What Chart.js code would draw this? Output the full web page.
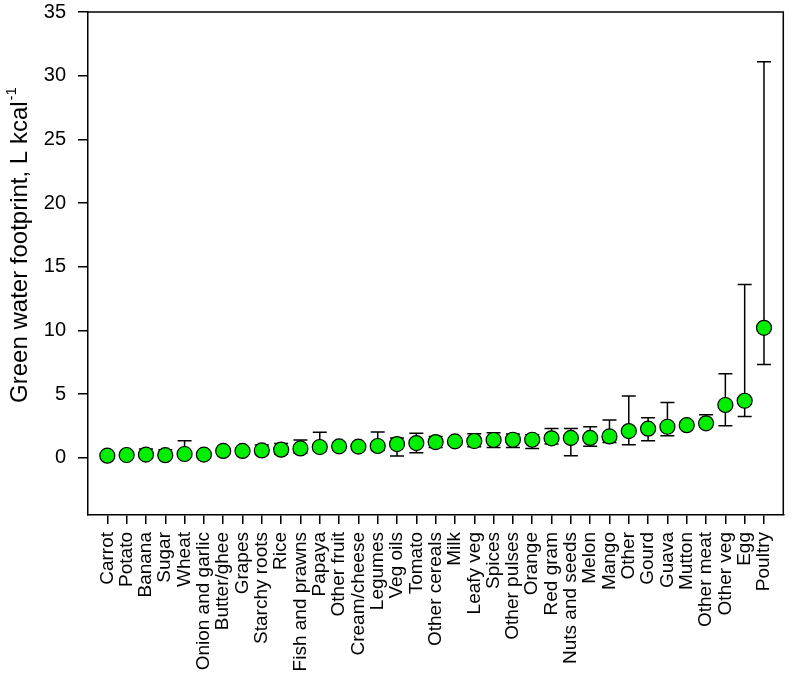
<!DOCTYPE html>
<html>
<head>
<meta charset="utf-8">
<script src="https://cdn.jsdelivr.net/npm/chart.js@4.4.0/dist/chart.umd.min.js"></script>
<style>
  html, body { margin: 0; padding: 0; background: #fff; }
  #wrap { width: 792px; height: 679px; }
</style>
</head>
<body>
<div id="wrap"><canvas id="chart" width="792" height="679"></canvas></div>
<script>
// Green water footprint by food group, mean with range
const categories = [
  'Carrot', 'Potato', 'Banana', 'Sugar', 'Wheat', 'Onion and garlic', 'Butter/ghee',
  'Grapes', 'Starchy roots', 'Rice', 'Fish and prawns', 'Papaya', 'Other fruit',
  'Cream/cheese', 'Legumes', 'Veg oils', 'Tomato', 'Other cereals', 'Milk', 'Leafy veg',
  'Spices', 'Other pulses', 'Orange', 'Red gram', 'Nuts and seeds', 'Melon', 'Mango',
  'Other', 'Gourd', 'Guava', 'Mutton', 'Other meat', 'Other veg', 'Egg', 'Poultry'
];
const means = [
  0.16, 0.21, 0.24, 0.20, 0.29, 0.24, 0.53, 0.53, 0.57, 0.63, 0.73, 0.84, 0.89,
  0.87, 0.92, 1.07, 1.15, 1.23, 1.28, 1.31, 1.39, 1.41, 1.41, 1.52, 1.55, 1.55, 1.67,
  2.09, 2.28, 2.43, 2.55, 2.70, 4.14, 4.47, 10.2
];
const lower = [
  0.08, 0.12, 0.10, 0.08, 0.12, 0.10, 0.40, 0.42, 0.25, 0.30, 0.35, 0.52, 0.60,
  0.70, 0.57, 0.13, 0.39, 0.81, 1.10, 0.86, 0.81, 0.81, 0.73, 1.07, 0.16, 0.89, 1.20,
  1.02, 1.33, 1.73, 2.30, 2.40, 2.51, 3.24, 7.32
];
const upper = [
  0.24, 0.30, 0.68, 0.63, 1.33, 0.40, 0.65, 0.62, 1.00, 1.12, 1.39, 1.99, 1.20,
  1.05, 2.02, 1.55, 1.91, 1.67, 1.45, 1.88, 1.96, 1.86, 1.81, 2.30, 2.30, 2.43, 2.96,
  4.84, 3.14, 4.34, 2.85, 3.37, 6.59, 13.6, 31.1
];
const yTicks = [0, 5, 10, 15, 20, 25, 30, 35];
const yTitle = 'Green water footprint, L kcal';
const yTitleSup = '-1';

const FONT = 'Liberation Sans, Arial, sans-serif';

const errorBars = {
  id: 'errorBars',
  beforeDatasetsDraw(chart) {
    const { ctx, scales: { x, y } } = chart;
    const cap = 7;
    ctx.save();
    ctx.strokeStyle = '#000';
    ctx.lineWidth = 1.5;
    means.forEach((m, i) => {
      const px = x.getPixelForValue(i);
      const top = y.getPixelForValue(upper[i]);
      const bot = y.getPixelForValue(lower[i]);
      ctx.beginPath();
      ctx.moveTo(px, top);
      ctx.lineTo(px, bot);
      ctx.moveTo(px - cap, top);
      ctx.lineTo(px + cap, top);
      ctx.moveTo(px - cap, bot);
      ctx.lineTo(px + cap, bot);
      ctx.stroke();
    });
    ctx.restore();
  },
  afterDraw(chart) {
    const { ctx, chartArea: a } = chart;
    ctx.save();
    // top and right frame
    ctx.strokeStyle = '#000';
    ctx.lineWidth = 1.5;
    ctx.beginPath();
    ctx.moveTo(a.left, a.top);
    ctx.lineTo(a.right, a.top);
    ctx.lineTo(a.right, a.bottom);
    ctx.stroke();

    // y title with superscript
    ctx.fillStyle = '#000';
    ctx.font = '24px ' + FONT;
    const w1 = ctx.measureText(yTitle).width;
    ctx.font = '15px ' + FONT;
    const w2 = ctx.measureText(yTitleSup).width;
    const cy = (a.top + a.bottom) / 2 - 18;
    ctx.translate(27, cy);
    ctx.rotate(-Math.PI / 2);
    ctx.textBaseline = 'alphabetic';
    ctx.textAlign = 'left';
    const start = -(w1 + w2) / 2;
    ctx.font = '24px ' + FONT;
    ctx.fillText(yTitle, start, 0);
    ctx.font = '15px ' + FONT;
    ctx.fillText(yTitleSup, start + w1 + 1, -11);
    ctx.restore();
  }
};

new Chart(document.getElementById('chart'), {
  type: 'scatter',
  data: {
    datasets: [{
      data: means.map((v, i) => ({ x: i, y: v })),
      backgroundColor: '#00ee00',
      borderColor: '#000',
      borderWidth: 1.2,
      pointRadius: 7.5,
      pointHoverRadius: 7.5,
      clip: false
    }]
  },
  options: {
    responsive: false,
    animation: false,
    events: [],
    layout: { padding: { top: 12, right: 6, left: 0, bottom: 0 } },
    plugins: { legend: { display: false }, tooltip: { enabled: false } },
    scales: {
      x: {
        type: 'linear',
        min: -1,
        max: 35,
        afterBuildTicks: (s) => { s.ticks = categories.map((c, i) => ({ value: i })); },
        afterFit: (s) => { s.height = 164; s.paddingLeft = 0; s.paddingRight = 0; },
        grid: { display: true, drawOnChartArea: false, drawTicks: true, tickLength: 9, color: '#000', lineWidth: 1.5 },
        border: { display: true, color: '#000', width: 1.5 },
        ticks: {
          autoSkip: false,
          minRotation: 90,
          maxRotation: 90,
          padding: 8,
          color: '#000',
          font: { family: FONT, size: 19 },
          callback: (v) => categories[v]
        }
      },
      y: {
        min: -4.5,
        max: 35,
        afterBuildTicks: (s) => { s.ticks = yTicks.map((v) => ({ value: v })); },
        afterFit: (s) => { s.width = 88; s.paddingTop = 0; s.paddingBottom = 0; },
        grid: { display: true, drawOnChartArea: false, drawTicks: true, tickLength: 10, color: '#000', lineWidth: 1.5 },
        border: { display: true, color: '#000', width: 1.5 },
        ticks: {
          padding: 12,
          color: '#000',
          font: { family: FONT, size: 20 }
        }
      }
    }
  },
  plugins: [errorBars]
});
</script>
</body>
</html>
